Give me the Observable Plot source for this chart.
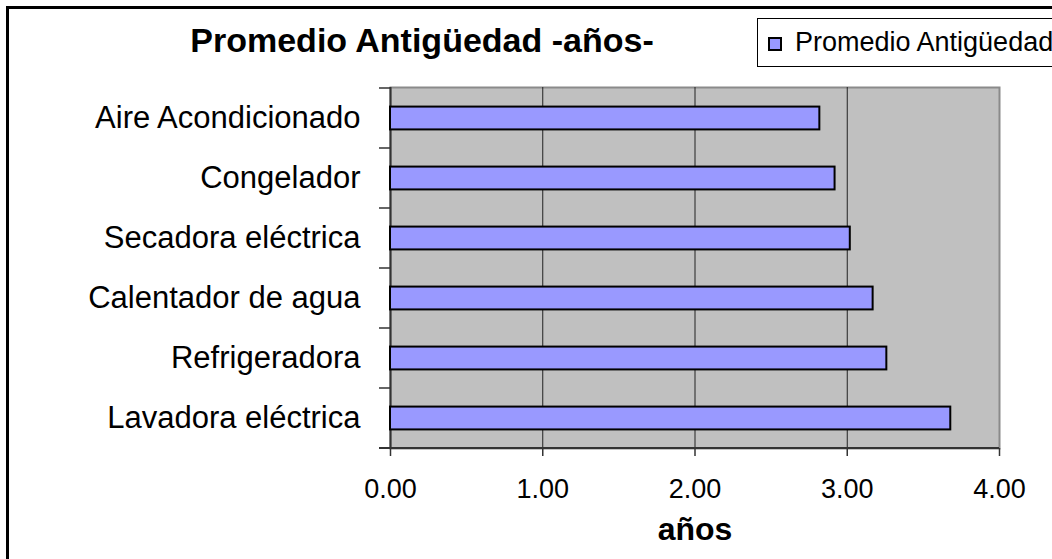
<!DOCTYPE html>
<html>
<head>
<meta charset="utf-8">
<script src="https://cdn.jsdelivr.net/npm/d3@7"></script>
<script src="https://cdn.jsdelivr.net/npm/@observablehq/plot@0.6"></script>
<style>
  html, body { margin: 0; padding: 0; width: 1052px; height: 559px; overflow: hidden; background: #fff; }
  body { position: relative; font-family: "Liberation Sans", Arial, sans-serif; }
  #frame { position: absolute; left: 6px; top: 6px; width: 3000px; height: 3000px; border: 3px solid #000; box-sizing: border-box; }
  #chart { position: absolute; left: 0; top: 0; }
  .title { position: absolute; top: 23px; left: 422px; transform: translateX(-50%); white-space: nowrap; font-weight: bold; font-size: 34px; line-height: 34px; color: #000; }
  .xlabel { position: absolute; top: 513px; left: 695px; transform: translateX(-50%); white-space: nowrap; font-weight: bold; font-size: 32px; line-height: 32px; color: #000; }
  .legend { position: absolute; left: 757px; top: 18px; width: 600px; height: 47px; border: 1px solid #000; background: #fff; }
  .legend .sw { position: absolute; left: 10px; top: 18px; width: 14px; height: 14px; box-sizing: border-box; border: 2px solid #000; background: #9999ff; }
  .legend .lt { position: absolute; left: 37px; top: 10px; font-size: 27px; line-height: 27px; white-space: nowrap; color: #000; }
</style>
</head>
<body>
<div id="frame"></div>
<div id="chart"></div>
<div class="title">Promedio Antigüedad -años-</div>
<div class="legend"><div class="sw"></div><div class="lt">Promedio Antigüedad</div></div>
<div class="xlabel">años</div>
<script>
const categories = ["Aire Acondicionado", "Congelador", "Secadora eléctrica", "Calentador de agua", "Refrigeradora", "Lavadora eléctrica"];
const values = [2.82, 2.92, 3.02, 3.17, 3.26, 3.68];
const xTicks = [0, 1, 2, 3, 4];
const gridTicks = [1, 2, 3];

const data = categories.map((name, i) => ({name, value: values[i]}));

const W = 1052, H = 559, mt = 87, mb = 111, ml = 390, mr = 53;
const step = (H - mt - mb) / categories.length;
const barH = 23;
const fmt = d3.format(".2f");

const chart = Plot.plot({
  width: W,
  height: H,
  marginLeft: ml,
  marginRight: mr,
  marginTop: mt,
  marginBottom: mb,
  style: {fontFamily: '"Liberation Sans", Arial, sans-serif', color: "#000", background: "transparent", overflow: "visible"},
  x: {domain: [0, 4], ticks: xTicks, tickFormat: fmt},
  y: {domain: categories, padding: 0},
  marks: [
    Plot.frame({fill: "#c0c0c0", stroke: "#8a8a8a", strokeWidth: 2}),
    Plot.gridX(gridTicks, {stroke: "#222", strokeOpacity: 1, strokeWidth: 1}),
    Plot.ruleX([0], {stroke: "#333", strokeWidth: 2}),
    Plot.barX(data, {
      x: "value", y: "name",
      fill: "#9999ff", stroke: "#000", strokeWidth: 2,
      insetTop: (step - barH) / 2, insetBottom: (step - barH) / 2
    }),
    Plot.axisX(xTicks, {tickSize: 8, tickPadding: 22, fontSize: 27, tickFormat: fmt, label: null, stroke: "#333", strokeWidth: 1.5}),
    Plot.axisY({tickSize: 0, tickPadding: 30, fontSize: 31, label: null})
  ]
});

document.getElementById("chart").appendChild(chart);

// boundary ticks on the category axis and the dark baseline, from the chart's own scales
const ys = chart.scale("y");
const xs = chart.scale("x");
const svg = d3.select(chart);
const bounds = categories.map(c => ys.apply(c));
bounds.push(ys.apply(categories[categories.length - 1]) + ys.step);
const x0 = xs.apply(0), x4 = xs.apply(4);
const g = svg.append("g").attr("stroke", "#333").attr("stroke-width", 1.5);
g.selectAll("line.yt").data(bounds).join("line")
  .attr("x1", x0 - 11).attr("x2", x0)
  .attr("y1", d => d).attr("y2", d => d);
g.append("line")
  .attr("x1", x0 - 11).attr("x2", x4)
  .attr("y1", bounds[bounds.length - 1]).attr("y2", bounds[bounds.length - 1])
  .attr("stroke-width", 2);
</script>
</body>
</html>
